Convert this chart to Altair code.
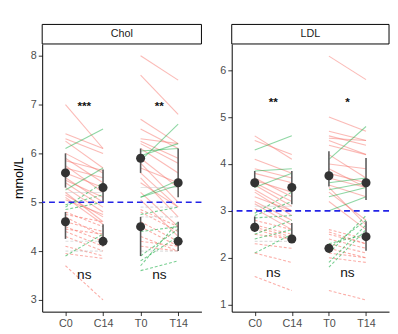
import altair as alt
import pandas as pd

# ---------------- data ----------------
x_labels = ["C0", "C14", "T0", "T14"]

# Chol, subjects above threshold (solid) and below (dashed)
chol_c0_hi = [7.0, 6.4, 6.3, 6.25, 6.1, 6.0, 5.9, 5.85, 5.75, 5.7, 5.6, 5.5, 5.45, 5.4, 5.3, 5.25, 5.2, 5.2, 5.15, 5.1, 5.05]
chol_c14_hi = [6.1, 6.1, 6.0, 5.7, 6.5, 5.6, 5.4, 5.65, 5.2, 5.5, 5.3, 5.0, 5.1, 4.9, 4.8, 5.7, 5.2, 4.6, 4.7, 4.55, 4.75]
chol_c0_lo = [4.95, 4.9, 4.85, 4.8, 4.75, 4.7, 4.6, 4.5, 4.45, 4.4, 4.3, 4.2, 4.1, 4.0, 3.95, 3.9, 3.7]
chol_c14_lo = [5.15, 5.4, 5.0, 4.5, 4.6, 4.3, 4.4, 4.2, 4.35, 4.1, 4.0, 4.2, 3.9, 4.0, 3.85, 4.35, 3.0]
chol_t0_hi = [8.0, 7.6, 6.7, 6.5, 6.3, 6.25, 6.2, 6.1, 6.05, 5.95, 5.9, 5.85, 5.8, 5.7, 5.6, 5.5, 5.4, 5.3, 5.2, 5.1, 5.1, 5.05]
chol_t14_hi = [7.5, 6.8, 6.2, 6.1, 6.2, 5.9, 5.8, 5.6, 6.1, 6.2, 5.3, 6.6, 5.0, 5.4, 4.9, 4.7, 4.9, 5.3, 4.5, 5.45, 5.35, 4.3]
chol_t0_lo = [4.9, 4.85, 4.8, 4.75, 4.7, 4.6, 4.5, 4.4, 4.3, 4.2, 4.1, 4.0, 3.9, 3.8, 3.7, 3.6]
chol_t14_lo = [4.9, 4.5, 4.4, 4.9, 4.7, 4.2, 4.1, 4.5, 4.0, 4.1, 4.0, 4.0, 4.45, 4.3, 4.6, 3.8]

chol_mean_hi = [5.6, 5.3, 5.9, 5.4]
chol_err_hi_lo = [5.3, 5.0, 5.6, 5.1]
chol_err_hi_up = [6.0, 5.67, 6.1, 6.1]
chol_mean_lo = [4.6, 4.2, 4.5, 4.2]
chol_err_lo_lo = [4.25, 4.1, 3.9, 4.0]
chol_err_lo_up = [4.8, 4.55, 4.7, 4.6]

# LDL
ldl_c0_hi = [4.6, 4.5, 4.3, 4.1, 3.9, 3.85, 3.8, 3.7, 3.65, 3.6, 3.55, 3.5, 3.45, 3.4, 3.3, 3.2, 3.15, 3.1, 3.05]
ldl_c14_hi = [4.1, 4.2, 4.6, 3.8, 3.7, 3.9, 3.6, 3.3, 3.4, 3.2, 3.1, 3.8, 3.0, 2.9, 3.0, 2.8, 2.7, 3.1, 2.6]
ldl_c0_lo = [2.95, 2.9, 2.85, 2.8, 2.7, 2.65, 2.6, 2.5, 2.5, 2.4, 2.35, 2.3, 2.1, 2.1, 1.6]
ldl_c14_lo = [3.4, 3.2, 2.9, 2.6, 2.5, 2.45, 2.4, 2.4, 2.8, 2.6, 2.35, 2.2, 2.5, 1.9, 1.3]
ldl_t0_hi = [6.3, 5.0, 4.7, 4.6, 4.55, 4.5, 4.4, 4.2, 4.1, 4.0, 3.9, 3.8, 3.7, 3.6, 3.55, 3.5, 3.45, 3.4, 3.3, 3.2, 3.0]
ldl_t14_hi = [5.8, 4.7, 4.5, 4.4, 4.5, 4.2, 4.2, 3.7, 4.8, 3.9, 3.5, 3.6, 3.5, 3.7, 3.3, 2.7, 3.6, 2.8, 3.5, 2.6, 3.3]
ldl_t0_lo = [2.6, 2.55, 2.5, 2.4, 2.3, 2.3, 2.2, 2.2, 2.1, 2.1, 2.0, 1.9, 1.8, 1.3]
ldl_t14_lo = [2.4, 2.3, 2.3, 2.2, 2.1, 2.5, 2.0, 2.8, 2.9, 2.0, 1.9, 2.7, 2.6, 1.1]

ldl_mean_hi = [3.6, 3.5, 3.75, 3.6]
ldl_err_hi_lo = [3.5, 3.14, 3.52, 3.23]
ldl_err_hi_up = [3.85, 3.85, 4.27, 4.13]
ldl_mean_lo = [2.65, 2.4, 2.2, 2.45]
ldl_err_lo_lo = [2.55, 2.33, 2.15, 2.15]
ldl_err_lo_up = [2.88, 2.74, 2.25, 2.78]

# annotations
chol_stars = ["***", "**"]
chol_star_y = 6.97
chol_ns_y = 3.5
ldl_stars = ["**", "*"]
ldl_star_y = 5.32
ldl_ns_y = 1.67

FONT = "Liberation Sans"
H = 274


def segments(pairs):
    rows = []
    for x0, a, b, grp in pairs:
        for s, e in zip(a, b):
            rows.append({"x": x0, "x2": x0 + 1, "y": s, "y2": e, "grp": grp})
    return pd.DataFrame(rows)


def panel(name, W, seg_df, means_hi, lo_hi, up_hi, means_lo, lo_lo, up_lo,
          thr, ydom, yvals, stars, star_y, ns_y, ytitle):
    xs = alt.Scale(domain=[-0.62, 3.62], nice=False, zero=False)
    ys = alt.Scale(domain=ydom, nice=False, zero=False)
    label_expr = "[" + ",".join("'%s'" % l for l in x_labels) + "][datum.value]"
    xaxis = alt.Axis(values=[0, 1, 2, 3], labelExpr=label_expr, title=None, grid=False)
    yaxis = alt.Axis(values=yvals, grid=False, format="d")
    if ytitle:
        yenc = alt.Y("y:Q", scale=ys, axis=yaxis, title=ytitle)
    else:
        yenc = alt.Y("y:Q", scale=ys, axis=yaxis, title=None)

    base = alt.Chart(seg_df).transform_calculate(
        dir="datum.y2 > datum.y ? 'up' : (datum.y2 < datum.y ? 'down' : 'same')"
    )
    color = alt.Color("dir:N", legend=None,
                      scale=alt.Scale(domain=["down", "up", "same"],
                                      range=["#F8766D", "#1FAF4A", "#C9C9C9"]))
    solid = base.transform_filter("datum.grp == 'hi'").mark_rule(
        strokeWidth=1.1, opacity=0.5).encode(
        x=alt.X("x:Q", scale=xs, axis=xaxis), x2="x2:Q", y=yenc, y2="y2:Q", color=color)
    dashed = base.transform_filter("datum.grp == 'lo'").mark_rule(
        strokeWidth=1.1, opacity=0.6, strokeDash=[3, 2]).encode(
        x=alt.X("x:Q", scale=xs), x2="x2:Q", y=alt.Y("y:Q", scale=ys), y2="y2:Q", color=color)

    rows = []
    for i in range(4):
        rows.append({"x": i, "m": means_hi[i], "lo": lo_hi[i], "up": up_hi[i]})
        rows.append({"x": i, "m": means_lo[i], "lo": lo_lo[i], "up": up_lo[i]})
    mdf = pd.DataFrame(rows)
    err = alt.Chart(mdf).mark_rule(color="#5A5A5A", strokeWidth=1.6).encode(
        x=alt.X("x:Q", scale=xs), y=alt.Y("lo:Q", scale=ys), y2="up:Q")
    pts = alt.Chart(mdf).mark_circle(color="#333333", size=85, opacity=1).encode(
        x=alt.X("x:Q", scale=xs), y=alt.Y("m:Q", scale=ys))

    hline = alt.Chart(pd.DataFrame({"v": [thr]})).mark_rule(
        color="#2323E6", strokeDash=[6, 4], strokeWidth=1.6).encode(
        y=alt.Y("v:Q", scale=ys))

    sdf = pd.DataFrame({"x": [0.5, 2.5], "y": [star_y, star_y], "t": stars})
    star_txt = alt.Chart(sdf).mark_text(font=FONT, fontSize=12, fontWeight="bold",
                                        color="#111111", baseline="middle").encode(
        x=alt.X("x:Q", scale=xs), y=alt.Y("y:Q", scale=ys), text="t:N")
    ndf = pd.DataFrame({"x": [0.5, 2.5], "y": [ns_y, ns_y], "t": ["ns", "ns"]})
    ns_txt = alt.Chart(ndf).mark_text(font=FONT, fontSize=14, color="#111111",
                                      baseline="middle").encode(
        x=alt.X("x:Q", scale=xs), y=alt.Y("y:Q", scale=ys), text="t:N")

    one = pd.DataFrame({"n": [name]})
    strip = alt.Chart(one).mark_rect(fill="white", stroke="black", strokeWidth=1).encode(
        x=alt.value(0), x2=alt.value(W), y=alt.value(-20), y2=alt.value(0))
    strip_txt = alt.Chart(one).mark_text(font=FONT, fontSize=11, color="#1A1A1A",
                                         baseline="middle").encode(
        x=alt.value(W / 2), y=alt.value(-10), text="n:N")

    return alt.layer(solid, dashed, err, hline, pts, star_txt, ns_txt, strip, strip_txt
                     ).properties(width=W, height=H)


chol_seg = segments([(0, chol_c0_hi, chol_c14_hi, "hi"), (0, chol_c0_lo, chol_c14_lo, "lo"),
                     (2, chol_t0_hi, chol_t14_hi, "hi"), (2, chol_t0_lo, chol_t14_lo, "lo")])
ldl_seg = segments([(0, ldl_c0_hi, ldl_c14_hi, "hi"), (0, ldl_c0_lo, ldl_c14_lo, "lo"),
                    (2, ldl_t0_hi, ldl_t14_hi, "hi"), (2, ldl_t0_lo, ldl_t14_lo, "lo")])

left = panel("Chol", 163, chol_seg, chol_mean_hi, chol_err_hi_lo, chol_err_hi_up,
             chol_mean_lo, chol_err_lo_lo, chol_err_lo_up, 5,
             [2.76, 8.24], [3, 4, 5, 6, 7, 8], chol_stars, chol_star_y, chol_ns_y, "mmol/L")
right = panel("LDL", 161, ldl_seg, ldl_mean_hi, ldl_err_hi_lo, ldl_err_hi_up,
              ldl_mean_lo, ldl_err_lo_lo, ldl_err_lo_up, 3,
              [0.85, 6.56], [1, 2, 3, 4, 5, 6], ldl_stars, ldl_star_y, ldl_ns_y, None)

chart = alt.hconcat(left, right, spacing=17).properties(
    padding={"left": 4, "top": 12, "right": 0, "bottom": 0}
).configure_view(strokeWidth=0).configure_axis(
    domainColor="black", domainWidth=1, tickColor="#333333", tickSize=4, tickWidth=1,
    labelColor="#4D4D4D", labelFontSize=11, labelFont=FONT, labelPadding=2,
    titleFont=FONT, titleFontSize=13, titleFontWeight="normal", titleColor="black",
    titlePadding=5
)

chart.save("out.html", embed_options={"renderer": "svg", "actions": False})
